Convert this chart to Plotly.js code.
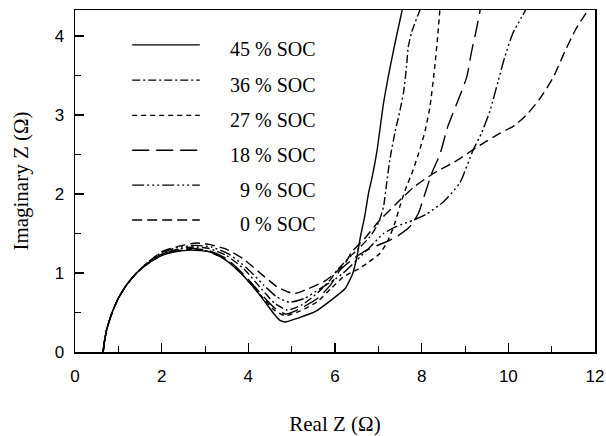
<!DOCTYPE html>
<html>
<head>
<meta charset="utf-8">
<script src="https://cdn.plot.ly/plotly-3.0.1.min.js"></script>
<style>html,body{margin:0;padding:0;background:#fff;}#chart{width:606px;height:436px;}</style>
</head>
<body>
<div id="chart"></div>
<script>
// Series names (legend order)
const seriesNames = ["45 % SOC", "36 % SOC", "27 % SOC", "18 % SOC", "9 % SOC", "0 % SOC"];

// Real Z (x) and Imaginary Z (y) values per series
const x45 = [0.65,0.67,0.73,0.85,1.0,1.19,1.42,1.69,2.0,2.31,2.69,3.08,3.38,3.58,3.82,4.04,4.35,4.58,4.73,4.85,5.15,5.54,5.92,6.23,6.40,6.50,6.58,6.69,6.77,6.87,6.97,7.12,7.27,7.40,7.55];
const y45 = [0,0.1,0.28,0.49,0.68,0.85,1.0,1.12,1.22,1.27,1.29,1.27,1.20,1.12,1.00,0.87,0.66,0.49,0.40,0.38,0.43,0.51,0.66,0.80,0.98,1.19,1.44,1.73,2.0,2.25,2.55,3.15,3.6,3.95,4.33];

const x36 = [0.65,0.67,0.73,0.85,1.0,1.19,1.42,1.69,2.0,2.35,2.75,3.1,3.5,3.9,4.3,4.6,4.9,5.25,5.6,5.9,6.04,6.35,6.58,6.81,7.0,7.12,7.19,7.27,7.38,7.50,7.58,7.65,7.69,7.77,7.96];
const y36 = [0,0.1,0.28,0.49,0.68,0.85,1.0,1.13,1.24,1.30,1.33,1.31,1.22,1.05,0.8,0.62,0.53,0.6,0.75,0.92,1.03,1.21,1.33,1.46,1.63,1.84,2.13,2.45,2.77,3.06,3.28,3.61,3.86,4.05,4.33];

const x27 = [0.65,0.67,0.73,0.85,1.0,1.19,1.42,1.69,2.0,2.35,2.7,3.1,3.5,3.9,4.3,4.6,4.85,5.2,5.6,5.9,6.19,6.50,6.73,7.04,7.23,7.38,7.50,7.62,7.80,7.95,8.08,8.19,8.30,8.37,8.42];
const y27 = [0,0.1,0.28,0.49,0.68,0.85,1.0,1.12,1.23,1.28,1.30,1.27,1.16,0.96,0.71,0.53,0.46,0.52,0.64,0.8,0.95,1.04,1.12,1.25,1.42,1.63,1.85,2.05,2.3,2.55,2.8,3.1,3.6,4.0,4.33];

const x18 = [0.65,0.67,0.73,0.85,1.0,1.19,1.42,1.69,2.0,2.35,2.7,3.1,3.5,3.9,4.3,4.6,4.87,5.2,5.6,5.9,6.12,6.42,6.73,7.12,7.42,7.73,7.92,8.08,8.23,8.42,8.6,8.85,9.04,9.15,9.25,9.35];
const y18 = [0,0.1,0.28,0.49,0.68,0.85,1.0,1.13,1.24,1.29,1.31,1.28,1.18,0.98,0.73,0.56,0.48,0.55,0.68,0.85,1.04,1.18,1.29,1.38,1.46,1.59,1.75,2.01,2.26,2.5,2.85,3.2,3.48,3.8,4.05,4.33];

const x9 = [0.65,0.67,0.73,0.85,1.0,1.19,1.42,1.69,2.0,2.35,2.78,3.15,3.55,3.95,4.35,4.65,4.95,5.3,5.65,6.0,6.19,6.5,6.81,7.12,7.42,7.81,8.12,8.5,8.88,9.19,9.38,9.58,9.77,9.92,10.1,10.4];
const y9 = [0,0.1,0.28,0.49,0.68,0.85,1.0,1.14,1.26,1.32,1.35,1.33,1.24,1.07,0.85,0.70,0.63,0.68,0.8,0.92,1.0,1.16,1.33,1.50,1.59,1.67,1.75,1.9,2.14,2.56,2.77,3.06,3.44,3.74,4.03,4.33];

const x0 = [0.65,0.67,0.73,0.85,1.0,1.19,1.42,1.69,2.0,2.4,2.81,3.12,3.5,3.88,4.38,4.65,4.92,5.08,5.38,5.77,6.0,6.23,6.39,6.69,7.0,7.42,7.8,8.27,8.8,9.35,9.81,10.15,10.45,10.73,11.04,11.3,11.55,11.84];
const y0 = [0,0.1,0.28,0.49,0.68,0.85,1.0,1.14,1.27,1.34,1.38,1.36,1.30,1.18,0.95,0.83,0.76,0.74,0.80,0.90,1.0,1.12,1.27,1.44,1.65,1.88,2.08,2.26,2.42,2.62,2.77,2.87,3.02,3.21,3.48,3.8,4.08,4.33];

const xTickVals = [0, 2, 4, 6, 8, 10, 12];
const yTickVals = [0, 1, 2, 3, 4];

const xs = [x45, x36, x27, x18, x9, x0];
const ys = [y45, y36, y27, y18, y9, y0];
const dashes = ["solid", "8px,3px,2px,3px", "5px,4px", "17px,7px", "12px,3px,2px,3px,2px,3px,2px,3px", "10px,5px"];

const traces = xs.map((x, i) => ({
  x: x, y: ys[i], type: "scatter", mode: "lines", name: seriesNames[i],
  line: {color: "#000", width: 1.4, dash: dashes[i], shape: "spline", smoothing: 0.5},
  showlegend: false, hoverinfo: "skip"
}));

// Custom legend: lines and right-aligned labels
const legendRowsY = [0.898, 0.795, 0.692, 0.59, 0.488, 0.386];
const shapes = [];
const annotations = [];
seriesNames.forEach((name, i) => {
  shapes.push({type: "line", xref: "paper", yref: "paper", x0: 0.11, x1: 0.24,
    y0: legendRowsY[i], y1: legendRowsY[i], line: {color: "#000", width: 1.4, dash: dashes[i]}});
  annotations.push({xref: "paper", yref: "paper", x: 0.467, y: legendRowsY[i] - 0.013, xanchor: "right", yanchor: "middle",
    text: name, showarrow: false, font: {family: "Liberation Serif, Times New Roman, serif", size: 20, color: "#000"}});
});

const layout = {
  width: 606, height: 436,
  margin: {l: 75, r: 11, t: 10, b: 84},
  paper_bgcolor: "#fff", plot_bgcolor: "#fff",
  showlegend: false,
  shapes: shapes,
  annotations: annotations,
  xaxis: {
    range: [0, 12], tickvals: xTickVals, ticks: "inside", ticklen: 9, tickwidth: 1.2, tickcolor: "#000",
    minor: {dtick: 1, ticks: "inside", ticklen: 6, tickwidth: 1, tickcolor: "#000"},
    showline: true, linecolor: "#000", linewidth: 1.5, mirror: true, showgrid: false, zeroline: false,
    tickfont: {family: "Liberation Sans, Arial, sans-serif", size: 17, color: "#000"},
    ticklabelstandoff: 8,
    title: {text: "Real Z (\u03A9)", standoff: 37, font: {family: "Liberation Serif, Times New Roman, serif", size: 21, color: "#000"}}
  },
  yaxis: {
    range: [0, 4.33], tickvals: yTickVals, ticks: "inside", ticklen: 9, tickwidth: 1.2, tickcolor: "#000",
    minor: {dtick: 0.5, ticks: "inside", ticklen: 6, tickwidth: 1, tickcolor: "#000"},
    showline: true, linecolor: "#000", linewidth: 1.5, mirror: true, showgrid: false, zeroline: false,
    tickfont: {family: "Liberation Sans, Arial, sans-serif", size: 17, color: "#000"},
    ticklabelstandoff: 6,
    title: {text: "Imaginary Z (\u03A9)", standoff: 20, font: {family: "Liberation Serif, Times New Roman, serif", size: 21, color: "#000"}}
  }
};

Plotly.newPlot("chart", traces, layout, {displayModeBar: false, staticPlot: true});
</script>
</body>
</html>
